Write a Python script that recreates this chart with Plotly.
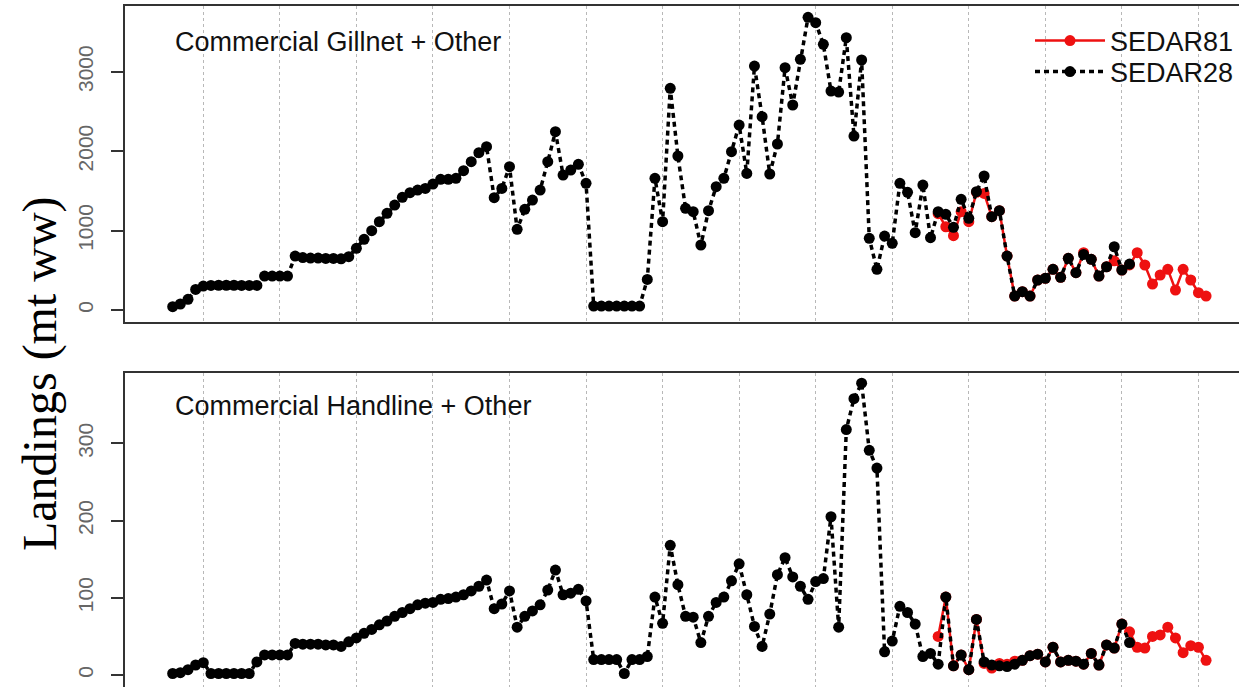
import plotly.graph_objects as go

# ---------------- data ----------------
years28 = list(range(1886, 2012))
years81 = list(range(1986, 2022))

gill28 = [42, 76, 135, 260, 302, 310, 312, 312, 312, 310, 310, 310,
          428, 428, 428, 428,
          680, 660, 655, 655, 650, 650, 645, 672, 777,
          890, 999, 1112, 1218, 1322, 1419, 1478, 1511, 1532, 1587,
          1646, 1646, 1659, 1755, 1868, 1982, 2057, 1415, 1532, 1805,
          1016, 1268, 1385, 1511, 1868, 2246, 1700, 1763, 1835, 1596,
          50, 50, 50, 50, 50, 50, 50, 386, 1659, 1112,
          2792, 1940, 1281, 1238, 819, 1251, 1553, 1659, 1994, 2330,
          1721, 3073, 2435, 1713, 2091, 3052, 2582, 3157, 3686, 3619,
          3346, 2758, 2745, 3430, 2191, 3149, 903, 512, 932, 840,
          1596, 1482, 974, 1574, 911, 1238, 1205, 1041, 1394, 1155,
          1490, 1688, 1175, 1251, 680, 176, 231, 176, 378, 399,
          512, 412, 651, 470, 700, 638, 428, 545, 797, 504, 579]

gill81 = [1213, 1049, 936, 1238, 1112, 1482, 1469, 1175, 1251, 680,
          176, 231, 176, 378, 399, 512, 412, 651, 470, 722,
          638, 428, 545, 620, 504, 568, 722, 567, 327, 441,
          512, 252, 512, 378, 218, 176]

hand28 = [2, 3, 7, 13, 16, 2, 2, 2, 2, 2, 2, 17,
          26, 26, 26, 26,
          41, 40, 40, 40, 39, 39, 37, 43, 48,
          54, 59, 65, 70, 76, 81, 86, 91, 93, 94,
          98, 99, 101, 104, 109, 115, 123, 86, 92, 109,
          62, 76, 83, 91, 110, 136, 104, 106, 111, 96,
          20, 20, 20, 20, 2, 20, 20, 24, 101, 67,
          168, 117, 76, 75, 42, 76, 94, 101, 122, 144,
          104, 63, 37, 79, 130, 152, 127, 115, 98, 121,
          125, 205, 62, 318, 358, 378, 291, 268, 30, 44,
          89, 81, 66, 24, 28, 14, 101, 12, 26, 7,
          72, 17, 13, 12, 11, 14, 19, 25, 27, 17,
          36, 17, 19, 18, 14, 28, 13, 39, 35, 66, 42]

hand81 = [50, 101, 12, 26, 7, 72, 15, 9, 15, 14,
          18, 19, 25, 27, 17, 36, 17, 19, 18, 14,
          28, 13, 39, 35, 66, 56, 36, 35, 50, 52,
          62, 48, 29, 38, 36, 19]

grid_years = list(range(1890, 2021, 10))
top_ticks = [0, 1000, 2000, 3000]
bot_ticks = [0, 100, 200, 300]

panel_titles = ["Commercial Gillnet + Other", "Commercial Handline + Other"]
series_names = ["SEDAR81", "SEDAR28"]
y_title = "Landings (mt ww)"

# ---------------- figure ----------------
W, H = 1239, 687
fig = go.Figure()

red = "#ee1111"
black = "#000000"

def add_panel(xa, ya, v81, v28, show):
    fig.add_trace(go.Scatter(
        x=years81, y=v81, mode="lines+markers", name=series_names[0],
        line=dict(color=red, width=2.5),
        marker=dict(color=red, size=11),
        xaxis=xa, yaxis=ya, showlegend=show, legend="legend"))
    fig.add_trace(go.Scatter(
        x=years28, y=v28, mode="lines+markers", name=series_names[1],
        line=dict(color=black, width=3.5, dash="5px,4px"),
        marker=dict(color=black, size=11),
        xaxis=xa, yaxis=ya, showlegend=show, legend="legend2"))

add_panel("x", "y", gill81, gill28, True)
add_panel("x2", "y2", hand81, hand28, False)

xr = [1879.77, 2025.3]
xcommon = dict(range=xr, tickvals=grid_years, showticklabels=False, ticks="",
               showgrid=True, gridcolor="#b8b8b8", griddash="dot", gridwidth=1,
               zeroline=False, linecolor="#333333", linewidth=2)
ycommon = dict(tickangle=-90, ticks="outside", ticklen=12, tickwidth=1.5,
               tickcolor="#333333", showgrid=False, zeroline=False,
               showline=True, linecolor="#333333", linewidth=2,
               ticklabelstandoff=10,
               tickfont=dict(family="Liberation Sans, Arial", size=21, color="#666666"))

leg_common = dict(xanchor="left", yanchor="middle", bgcolor="rgba(0,0,0,0)",
                  font=dict(family="Liberation Sans, Arial", size=27, color="#111111"),
                  itemwidth=70)

fig.update_layout(
    width=W, height=H,
    margin=dict(l=0, r=0, t=0, b=0),
    paper_bgcolor="white", plot_bgcolor="white",
    xaxis=dict(domain=[125 / W, 1.0], anchor="y", showline=True, mirror=True, **xcommon),
    yaxis=dict(domain=[1 - 321.7 / H, 1 - 6 / H], anchor="x", range=[-147, 3829],
               tickvals=top_ticks, **ycommon),
    xaxis2=dict(domain=[125 / W, 1.0], anchor="y2", side="top", showline=True, **xcommon),
    yaxis2=dict(domain=[0, 1 - 372.7 / H], anchor="x2", range=[-15.5, 391.6],
                tickvals=bot_ticks, **ycommon),
    showlegend=True,
    legend=dict(x=1030 / W, y=1 - 41 / H, **leg_common),
    legend2=dict(x=1030 / W, y=1 - 72 / H, **leg_common),
    font=dict(family="Liberation Sans, Arial"),
)

fig.add_annotation(text=panel_titles[0], xref="paper", yref="paper",
                   x=173 / W, y=1 - 42 / H, xanchor="left", yanchor="middle",
                   showarrow=False, font=dict(family="Liberation Sans, Arial", size=27, color="#111111"))
fig.add_annotation(text=panel_titles[1], xref="paper", yref="paper",
                   x=173 / W, y=1 - 406 / H, xanchor="left", yanchor="middle",
                   showarrow=False, font=dict(family="Liberation Sans, Arial", size=27, color="#111111"))
fig.add_annotation(text=y_title, xref="paper", yref="paper",
                   x=40 / W, y=1 - 374 / H, xanchor="center", yanchor="middle",
                   textangle=-90, showarrow=False,
                   font=dict(family="Liberation Serif, Times New Roman, serif", size=48, color="#000000"))

fig.write_html("out.html")
